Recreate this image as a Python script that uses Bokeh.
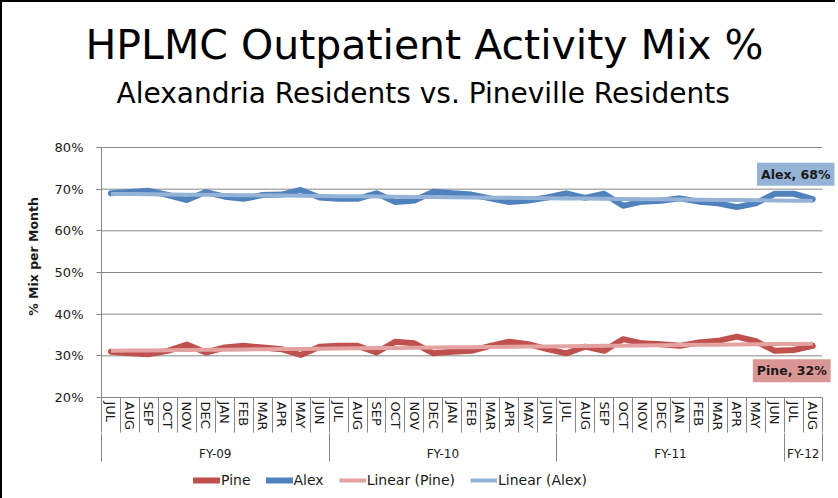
import numpy as np
from bokeh.plotting import figure
from bokeh.layouts import column
from bokeh.models import (Range1d, FixedTicker, LinearAxis, PrintfTickFormatter,
                          Legend, LegendItem, Label, Title)
from bokeh.embed import file_html
from bokeh.resources import INLINE

# ---------------- data ----------------
months = ["JUL", "AUG", "SEP", "OCT", "NOV", "DEC", "JAN", "FEB", "MAR", "APR", "MAY", "JUN",
          "JUL", "AUG", "SEP", "OCT", "NOV", "DEC", "JAN", "FEB", "MAR", "APR", "MAY", "JUN",
          "JUL", "AUG", "SEP", "OCT", "NOV", "DEC", "JAN", "FEB", "MAR", "APR", "MAY", "JUN",
          "JUL", "AUG"]
fiscal_years = ["FY-09", "FY-10", "FY-11", "FY-12"]
fy_lengths = [12, 12, 12, 2]

alex = [69.0, 69.3, 69.6, 68.6, 67.4, 69.3, 68.2, 67.7, 68.6, 68.7, 69.8, 68.0,
        67.7, 67.7, 69.0, 66.9, 67.3, 69.4, 69.0, 68.7, 67.8, 66.9, 67.3, 68.0,
        69.0, 67.9, 68.9, 66.0, 67.0, 67.2, 67.8, 67.0, 66.6, 65.7, 66.6, 68.9,
        68.9, 67.6]
pine = [31.0, 30.6, 30.4, 31.2, 32.7, 30.8, 32.0, 32.4, 32.0, 31.6, 30.2, 32.2,
        32.4, 32.4, 30.8, 33.4, 33.0, 30.6, 31.0, 31.2, 32.4, 33.4, 32.8, 31.6,
        30.6, 32.2, 31.2, 34.0, 33.0, 32.8, 32.4, 33.2, 33.6, 34.6, 33.5, 31.2,
        31.4, 32.4]
y_ticks = [20, 30, 40, 50, 60, 70, 80]

title_text = "HPLMC Outpatient Activity Mix %"
subtitle_text = "Alexandria Residents vs. Pineville Residents"

# ---------------- derived positions ----------------
n = len(months)
xs = np.arange(n) + 0.5
month_bounds = [float(b) for b in range(n + 1)]
fy_bounds = [0.0] + [float(v) for v in np.cumsum(fy_lengths)]
fy_centers = [(fy_bounds[i] + fy_bounds[i + 1]) / 2 for i in range(len(fy_lengths))]

pine_fit = np.polyfit(xs, pine, 1)
alex_fit = np.polyfit(xs, alex, 1)
pine_trend = np.polyval(pine_fit, xs)
alex_trend = np.polyval(alex_fit, xs)

FONT = "DejaVu Sans"
GRAY = "#868686"
TXT = "#1a1a1a"
PINE_C = "#C0504D"
ALEX_C = "#4F81BD"
PINE_T = "#E2A3A1"
ALEX_T = "#95B3D7"

# layout helpers: the plotting frame is extended above 80% and right of the last
# month so the titles and data labels sit where the reference has them
PLOT_PX = 250                       # pixel height of the 20%..80% span
TOP_EXTRA_PX = 32                   # empty space above 80% inside the frame
y_span = y_ticks[-1] - y_ticks[0]
y_top = y_ticks[-1] + y_span * TOP_EXTRA_PX / PLOT_PX
x_pad = 0.7

p = figure(frame_width=734, frame_height=PLOT_PX + TOP_EXTRA_PX,
           x_range=Range1d(0, n + x_pad), y_range=Range1d(y_ticks[0], y_top),
           output_backend="svg", toolbar_location=None, x_axis_type=None,
           title=None, min_border_left=99, min_border_right=0,
           min_border_top=113, min_border_bottom=0)
p.outline_line_color = None

# titles
p.add_layout(Title(text=subtitle_text, text_font=FONT, text_font_size="28px",
                   text_font_style="normal", align="left", offset=15, standoff=12,
                   text_color="#000000"), "above")
p.add_layout(Title(text=title_text, text_font=FONT, text_font_size="41px",
                   text_font_style="normal", align="left", offset=-16, standoff=0,
                   text_color="#000000"), "above")

# y axis
ya = p.yaxis[0]
ya.ticker = FixedTicker(ticks=y_ticks)
ya.bounds = (y_ticks[0], y_ticks[-1])
ya.formatter = PrintfTickFormatter(format="%d%%")
ya.axis_line_color = GRAY
ya.major_tick_line_color = GRAY
ya.major_tick_out = 5
ya.major_tick_in = 0
ya.minor_tick_line_color = None
ya.minor_tick_out = 0
ya.minor_tick_in = 0
ya.major_label_standoff = 13
ya.major_label_text_font = FONT
ya.major_label_text_font_size = "13px"
ya.major_label_text_color = TXT
ya.axis_label = "% Mix per Month"
ya.axis_label_text_font = FONT
ya.axis_label_text_font_style = "bold"
ya.axis_label_text_font_size = "12.5px"
ya.axis_label_text_color = TXT
ya.axis_label_standoff = 11
p.grid.visible = False

# horizontal gridlines, limited to the category span
p.segment(x0=[0] * len(y_ticks), x1=[n] * len(y_ticks), y0=y_ticks, y1=y_ticks,
          line_color=GRAY, line_width=1)

# month axis
ax_m = LinearAxis(ticker=FixedTicker(ticks=[float(x) for x in xs], minor_ticks=month_bounds),
                  major_label_overrides={float(x): m for x, m in zip(xs, months)},
                  major_label_orientation="vertical", bounds=(0, n))
ax_m.axis_line_color = GRAY
ax_m.major_tick_out = 0
ax_m.major_tick_in = 0
ax_m.major_tick_line_color = None
ax_m.minor_tick_out = 35
ax_m.minor_tick_in = 0
ax_m.minor_tick_line_color = GRAY
ax_m.major_label_standoff = -31
ax_m.major_label_text_font = FONT
ax_m.major_label_text_font_size = "13px"
ax_m.major_label_text_color = TXT
p.add_layout(ax_m, "below")

# fiscal year axis
ax_fy = LinearAxis(ticker=FixedTicker(ticks=fy_centers, minor_ticks=fy_bounds),
                   major_label_overrides={float(c): f for c, f in zip(fy_centers, fiscal_years)},
                   bounds=(0, n))
ax_fy.axis_line_color = None
ax_fy.major_tick_out = 0
ax_fy.major_tick_in = 0
ax_fy.major_tick_line_color = None
ax_fy.minor_tick_out = 28
ax_fy.minor_tick_in = 0
ax_fy.minor_tick_line_color = GRAY
ax_fy.major_label_standoff = -15
ax_fy.major_label_text_font = FONT
ax_fy.major_label_text_font_size = "12px"
ax_fy.major_label_text_color = TXT
p.add_layout(ax_fy, "below")

# lines
line_styles = {
    "Pine": dict(line_color=PINE_C, line_width=6, line_join="round", line_cap="round"),
    "Alex": dict(line_color=ALEX_C, line_width=6, line_join="round", line_cap="round"),
    "Linear (Pine)": dict(line_color=PINE_T, line_width=4),
    "Linear (Alex)": dict(line_color=ALEX_T, line_width=4),
}
series = {"Pine": pine, "Alex": alex, "Linear (Pine)": pine_trend, "Linear (Alex)": alex_trend}
for name in ["Pine", "Alex", "Linear (Pine)", "Linear (Alex)"]:
    p.line(xs, series[name], **line_styles[name])

# data labels for the last points
p.add_layout(Label(x=xs[-1], y=alex[-1], text=f"Alex, {round(alex[-1])}%",
                   x_offset=-17, y_offset=25, text_align="center", text_baseline="middle",
                   text_font=FONT, text_font_style="bold", text_font_size="12.5px",
                   text_color=TXT, background_fill_color="#95B3D7", padding=4))
p.add_layout(Label(x=xs[-1], y=pine[-1], text=f"Pine, {round(pine[-1])}%",
                   x_offset=-21, y_offset=-25, text_align="center", text_baseline="middle",
                   text_font=FONT, text_font_style="bold", text_font_size="12.5px",
                   text_color=TXT, background_fill_color="#D99694", padding=4))

# legend strip below the chart (same series and line styles, drawn out of view)
p2 = figure(width=833, height=35, x_range=Range1d(0, 1), y_range=Range1d(0, 1),
            output_backend="svg", toolbar_location=None, x_axis_type=None, y_axis_type=None,
            min_border=0)
p2.outline_line_color = None
p2.grid.visible = False
items = []
for name in ["Pine", "Alex", "Linear (Pine)", "Linear (Alex)"]:
    r = p2.line(xs, series[name], **line_styles[name])
    items.append(LegendItem(label=name, renderers=[r]))
legend = Legend(items=items, orientation="horizontal", location=(92, 10),
                border_line_color=None, background_fill_alpha=0,
                label_text_font=FONT, label_text_font_size="14px",
                label_text_color=TXT, label_height=16,
                glyph_width=27, glyph_height=12, label_standoff=1, spacing=15,
                padding=2, margin=0)
p2.add_layout(legend)

layout = column(p, p2, spacing=0,
                styles={"border-left": "2px solid black", "border-top": "2px solid black",
                        "border-bottom": "2px solid black"})

open("out.html", "w").write(file_html(layout, INLINE))
